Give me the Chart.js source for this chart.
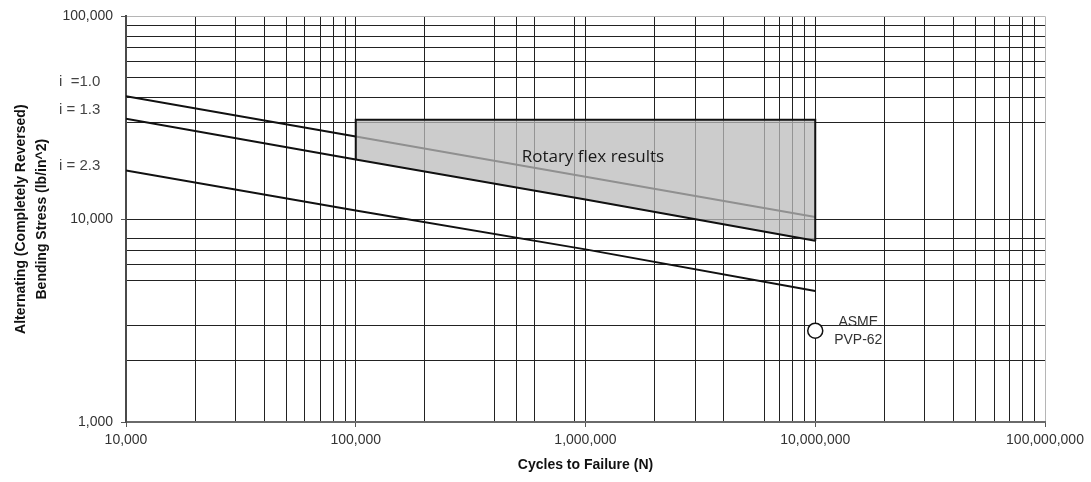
<!DOCTYPE html>
<html>
<head>
<meta charset="utf-8">
<script src="https://cdn.jsdelivr.net/npm/chart.js@4.4.0/dist/chart.umd.min.js"></script>
<style>
    html, body { margin: 0; padding: 0; background: #fff; }
    #wrap { width: 1091px; height: 482px; position: relative; }
</style>
</head>
<body>
<div id="wrap"><canvas id="myChart" width="1091" height="482"></canvas></div>
<script>
// S-N lines
const cycles = [1e4, 1e5, 1e6, 1e7];
const stressI10 = [40400, 25600, 16200, 10250];
const stressI13 = [31300, 19700, 12500, 7820];
const stressI23 = [17400, 11050, 7100, 4420];

// rotary flex band (closed outline)
const rotaryCycles = [1e5, 1e5, 1e7, 1e7];
const rotaryStress = [19700, 30900, 30900, 7820];

// ASME PVP-62 point
const asmeCycles = [1e7];
const asmeStress = [2820];

// grid lines that show in the picture
const xGridValues = [
    1e4, 2e4, 3e4, 4e4, 5e4, 6e4, 7e4, 8e4, 9e4,
    1e5, 2e5, 4e5, 5e5, 6e5, 9e5,
    1e6, 2e6, 3e6, 4e6, 6e6, 7e6, 8e6, 9e6,
    1e7, 2e7, 3e7, 4e7, 5e7, 6e7, 7e7, 8e7, 9e7,
    1e8
];
const yGridValues = [
    1e3, 2e3, 3e3, 5e3, 6e3, 7e3, 8e3,
    1e4, 3e4, 4e4, 5e4, 6e4, 7e4, 8e4, 9e4,
    1e5
];
const xMajor = [1e4, 1e5, 1e6, 1e7, 1e8];
const xTickLabels = ['10,000', '100,000', '1,000,000', '10,000,000', '100,000,000'];
const yMajor = [1e3, 1e4, 1e5];
const yTickLabels = ['1,000', '10,000', '100,000'];

const toPoints = (xs, ys) => xs.map((x, i) => ({ x: x, y: ys[i] }));

const notes = {
    id: 'notes',
    afterDatasetsDraw(chart) {
        const { ctx, chartArea, scales: { x, y } } = chart;
        ctx.save();
        ctx.textBaseline = 'middle';

        ctx.fillStyle = '#444';
        ctx.font = '15px "Liberation Sans", Arial, sans-serif';
        ctx.textAlign = 'left';
        ctx.fillText('i  =1.0', chartArea.left - 67, y.getPixelForValue(47300));
        ctx.fillText('i = 1.3', chartArea.left - 67, y.getPixelForValue(34470));
        ctx.fillText('i = 2.3', chartArea.left - 67, y.getPixelForValue(18270));

        ctx.fillStyle = '#1a1a1a';
        ctx.font = '17px "Open Sans", sans-serif';
        ctx.textAlign = 'center';
        ctx.fillText('Rotary flex results', x.getPixelForValue(1.077e6), y.getPixelForValue(20300));

        const px = x.getPixelForValue(asmeCycles[0]) + 43;
        const py = y.getPixelForValue(asmeStress[0]);
        ctx.fillStyle = '#333';
        ctx.font = '14px "Liberation Sans", Arial, sans-serif';
        ctx.fillText('ASME', px, py - 9);
        ctx.fillText('PVP-62', px, py + 9);
        ctx.restore();
    }
};

const ctx = document.getElementById('myChart').getContext('2d');

const chart = new Chart(ctx, {
    type: 'line',
    data: {
        datasets: [
            {
                data: toPoints(asmeCycles, asmeStress),
                showLine: false,
                pointRadius: 7.5,
                pointBorderWidth: 1.5,
                pointBorderColor: '#111',
                pointBackgroundColor: '#fff'
            },
            {
                data: toPoints(cycles, stressI13),
                borderColor: '#111',
                borderWidth: 2,
                pointRadius: 0
            },
            {
                data: toPoints(cycles, stressI23),
                borderColor: '#111',
                borderWidth: 2,
                pointRadius: 0
            },
            {
                data: toPoints(rotaryCycles, rotaryStress),
                borderColor: '#111',
                borderWidth: 2,
                backgroundColor: 'rgba(187, 187, 187, 0.75)',
                fill: 'shape',
                pointRadius: 0
            },
            {
                data: toPoints(cycles, stressI10),
                borderColor: '#111',
                borderWidth: 2,
                pointRadius: 0
            }
        ]
    },
    options: {
        responsive: false,
        animation: false,
        layout: {
            padding: { top: 16, right: 46, left: 0, bottom: 0 }
        },
        elements: {
            line: { tension: 0 }
        },
        scales: {
            x: {
                type: 'logarithmic',
                min: 1e4,
                max: 1e8,
                afterBuildTicks: (scale) => {
                    scale.ticks = xGridValues.map(v => ({ value: v }));
                },
                afterFit: (scale) => {
                    scale.height = 60;
                },
                ticks: {
                    autoSkip: false,
                    maxRotation: 0,
                    padding: 5,
                    color: '#333',
                    font: { family: '"Liberation Sans", Arial, sans-serif', size: 14 },
                    callback: (v) => {
                        const i = xMajor.indexOf(v);
                        return i >= 0 ? xTickLabels[i] : '';
                    }
                },
                grid: {
                    color: (c) => (c.tick && c.tick.value === 1e8) ? '#b5b5b5' : '#222',
                    lineWidth: 1,
                    tickLength: 5,
                    tickColor: (c) => (c.tick && xMajor.includes(c.tick.value)) ? '#555' : 'rgba(0,0,0,0)'
                },
                border: { color: '#6a6a6a', width: 2 },
                title: {
                    display: true,
                    text: 'Cycles to Failure (N)',
                    color: '#111',
                    font: { family: '"Liberation Sans", Arial, sans-serif', size: 14, weight: 'bold', lineHeight: 1.5 },
                    padding: { top: 0, bottom: 6 }
                }
            },
            y: {
                type: 'logarithmic',
                min: 1e3,
                max: 1e5,
                afterBuildTicks: (scale) => {
                    scale.ticks = yGridValues.map(v => ({ value: v }));
                },
                afterFit: (scale) => {
                    scale.width = 126;
                },
                ticks: {
                    autoSkip: false,
                    padding: 8,
                    color: '#333',
                    font: { family: '"Liberation Sans", Arial, sans-serif', size: 14 },
                    callback: (v) => {
                        const i = yMajor.indexOf(v);
                        return i >= 0 ? yTickLabels[i] : '';
                    }
                },
                grid: {
                    color: (c) => (c.tick && c.tick.value === 1e5) ? '#b5b5b5' : '#222',
                    lineWidth: 1,
                    tickLength: 5,
                    tickColor: (c) => (c.tick && yMajor.includes(c.tick.value)) ? '#555' : 'rgba(0,0,0,0)'
                },
                border: { color: '#4a4a4a', width: 2 },
                title: {
                    display: true,
                    text: ['Alternating (Completely Reversed)', 'Bending Stress (lb/in^2)'],
                    color: '#111',
                    font: { family: '"Liberation Sans", Arial, sans-serif', size: 14, weight: 'bold', lineHeight: 1.5 },
                    padding: { top: 11, bottom: 0 }
                }
            }
        },
        plugins: {
            legend: { display: false },
            tooltip: { enabled: false }
        }
    },
    plugins: [notes]
});
</script>
</body>
</html>
